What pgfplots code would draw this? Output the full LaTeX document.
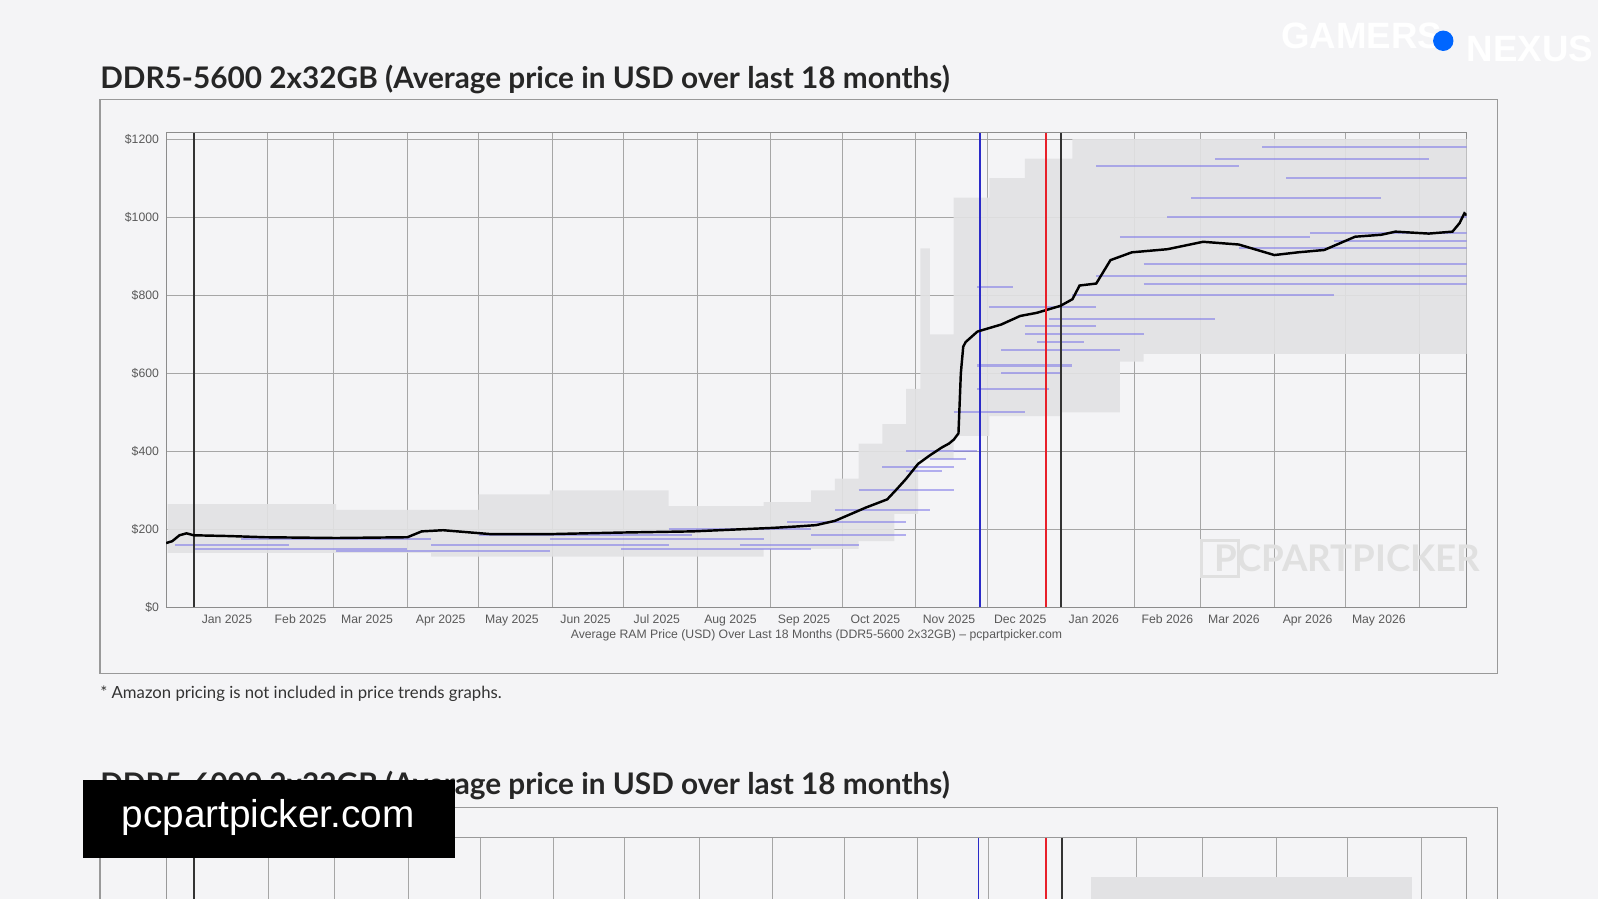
\documentclass[border=0pt]{standalone}
\usepackage{pgfplots}
\pgfplotsset{compat=1.18}
\usepackage{fontspec}
\setmainfont{Liberation Sans}
\newfontfamily\titlefont{Lato}
\definecolor{pagebg}{HTML}{F4F4F6}
\definecolor{bandc}{HTML}{E2E2E4}
\definecolor{segc}{HTML}{7B74E8}
\definecolor{vred}{HTML}{E8202A}
\definecolor{vblue}{HTML}{2A2AC8}
\begin{document}
\begin{tikzpicture}[x=0.5pt,y=-0.5pt]
\fill[pagebg] (0,0) rectangle (1568,882);
\node[anchor=west,inner sep=0pt,font=\titlefont\bfseries\fontsize{14.6}{16}\selectfont,text=black!85] at (98,78) {DDR5-5600 2x32GB (Average price in USD over last 18 months)};
\draw[black!40,line width=0.6pt] (98,98) rectangle (1469,661);
\begin{axis}[at={(81.5pt,-298pt)},anchor=south west,scale only axis,width=638pt,height=233pt,
  xmin=-11.6,xmax=536,ymin=0,ymax=1217,
  axis background/.style={fill=pagebg},
  axis line style={black!45},
  ytick={0,200,400,600,800,1000,1200},
  yticklabels={\$0,\$200,\$400,\$600,\$800,\$1000,\$1200},
  ymajorgrids, major grid style={black!35,line width=0.4pt},
  xtick={14,45,73,104,134,165,195,226,257,287,318,348,379,410,438,469,499},
  xticklabels={Jan 2025,Feb 2025,Mar 2025,Apr 2025,May 2025,Jun 2025,Jul 2025,Aug 2025,Sep 2025,Oct 2025,Nov 2025,Dec 2025,Jan 2026,Feb 2026,Mar 2026,Apr 2026,May 2026},
  minor xtick={0,31,59,90,120,151,181,212,243,273,304,334,365,396,424,455,485,516},
  xminorgrids, minor grid style={black!35,line width=0.4pt},
  major tick length=0pt, minor tick length=0pt,
  tick label style={font=\fontsize{6}{7}\selectfont,text=black!65},
  xlabel={Average RAM Price (USD) Over Last 18 Months (DDR5-5600 2x32GB) -- pcpartpicker.com},
  xlabel style={font=\fontsize{6}{7}\selectfont,text=black!65,yshift=5pt},
  unbounded coords=jump, clip=true]
\addplot[fill=bandc,draw=none,fill opacity=0.9] coordinates {
 (-11,265)(60,265)(60,250)(120,250)(120,290)(150,290)(150,300)(200,300)(200,260)(240,260)(240,270)(260,270)(260,300)(270,300)(270,330)(280,330)(280,420)(290,420)(290,470)(300,470)(300,560)(306,560)(306,920)(310,920)(310,700)(320,700)(320,1050)(335,1050)(335,1100)(350,1100)(350,1150)(370,1150)(370,1200)(536,1200)
 (536,650)(400,650)(400,630)(390,630)(390,500)(365,500)(365,490)(335,490)(335,440)(320,440)(320,380)(305,380)(305,240)(295,240)(295,170)(280,170)(280,150)(240,150)(240,130)(100,130)(100,140)(-11,140)} -- cycle;
\addplot[segc,line width=1pt,opacity=0.55] coordinates {
(-8,160)(40,160) (nan,nan) (0,150)(90,150) (nan,nan) (20,175)(100,175) (nan,nan) (60,145)(150,145) (nan,nan) (100,160)(200,160) (nan,nan) (120,185)(210,185) (nan,nan) (150,175)(240,175) (nan,nan) (180,150)(260,150) (nan,nan) (200,200)(260,200) (nan,nan) (230,160)(280,160) (nan,nan) (250,220)(300,220) (nan,nan) (260,185)(300,185) (nan,nan) (270,250)(310,250) (nan,nan) (280,300)(320,300) (nan,nan) (290,360)(320,360) (nan,nan) (300,400)(330,400) (nan,nan) (320,500)(350,500) (nan,nan) (330,560)(360,560) (nan,nan) (330,620)(370,620) (nan,nan) (335,770)(380,770) (nan,nan) (330,820)(345,820) (nan,nan) (340,660)(390,660) (nan,nan) (350,700)(400,700) (nan,nan) (360,740)(430,740) (nan,nan) (370,800)(480,800) (nan,nan) (380,850)(536,850) (nan,nan) (400,880)(536,880) (nan,nan) (390,950)(470,950) (nan,nan) (420,1050)(500,1050) (nan,nan) (410,1000)(536,1000) (nan,nan) (440,920)(536,920) (nan,nan) (460,1100)(536,1100) (nan,nan) (380,1130)(440,1130) (nan,nan) (470,960)(536,960) (nan,nan) (350,720)(380,720) (nan,nan) (400,830)(536,830) (nan,nan) (300,350)(315,350) (nan,nan) (310,380)(325,380) (nan,nan) (340,600)(365,600) (nan,nan) (355,680)(375,680) (nan,nan) (430,1150)(520,1150) (nan,nan) (450,1180)(536,1180) (nan,nan) (480,940)(536,940)};
\addplot[black!80,line width=0.9pt] coordinates {(0,0)(0,1217)};
\addplot[black!80,line width=0.9pt] coordinates {(365,0)(365,1217)};
\draw[vblue,line width=0.7pt] (axis cs:331,0) -- (axis cs:331,1217);
\addplot[black,line width=1.2pt] coordinates {
(-11.6,165)(-9,170)(-6,185)(-3,190)(0,185)(15,183)(30,180)(60,178)(90,180)(96,195)(105,198)(115,193)(125,188)(150,188)(180,192)(210,195)(244,204)(255,208)(262,211)(270,222)(275,235)(283,256)(292,277)(296,303)(300,330)(305,368)(310,390)(315,410)(318,420)(320,430)(322,446)(323,600)(324,668)(325,680)(330,707)(340,725)(348,747)(355,755)(365,773)(370,790)(373,825)(380,830)(386,890)(395,910)(410,918)(425,937)(440,930)(455,903)(465,910)(476,916)(489,950)(500,955)(506,963)(520,958)(530,963)(533,985)(535,1010)(536,1005)};
\end{axis}
\draw[vred,line width=0.9pt] (1026,130) -- (1026,596);
\node[font=\titlefont\fontsize{18}{20}\selectfont\bfseries,text=black!12] at (1322,548) {PCPARTPICKER};
\node[draw=black!12,line width=1.5pt,minimum size=18pt] at (1197,548) {};
\node[anchor=west,inner sep=0pt,font=\titlefont\fontsize{8.2}{9}\selectfont,text=black!80] at (98,681) {* Amazon pricing is not included in price trends graphs.};
\node[anchor=west,inner sep=0pt,font=\titlefont\bfseries\fontsize{14.6}{16}\selectfont,text=black!85] at (98,771) {DDR5-6000 2x32GB (Average price in USD over last 18 months)};
\fill[pagebg] (98,792) rectangle (1469,882);
\draw[black!40,line width=0.6pt] (98,792) -- (98,882) (98,792) -- (1469,792) -- (1469,882);
\draw[black!40,line width=0.4pt] (163,822) -- (1439,822) (163,822) -- (163,882) (1439,822)--(1439,882);
\foreach \x in {263,328,401,471,543,613,686,758,828,900,970,1115,1180,1252,1322,1395} \draw[black!35,line width=0.4pt] (\x,822)--(\x,882);
\draw[black!80,line width=0.9pt] (190,822)--(190,882) (1042,822)--(1042,882);
\draw[vblue,line width=0.7pt] (960,822)--(960,882);
\draw[vred,line width=0.8pt] (1026,822)--(1026,882);
\fill[bandc] (1070,860) rectangle (1385,882);
\fill[black] (81,765) rectangle (446,842);
\node[font=\fontsize{19}{22}\selectfont,text=white] at (263,802) {pcpartpicker.com};
\node[anchor=west,font=\fontsize{18}{20}\selectfont\bfseries,text=white,draw=none] at (1250,35) {GAMERS};
\node[anchor=west,font=\fontsize{18}{20}\selectfont\bfseries,text=white] at (1432,48) {NEXUS};
\fill[blue!60!cyan] (1416,40) circle (10);
\end{tikzpicture}
\end{document}
